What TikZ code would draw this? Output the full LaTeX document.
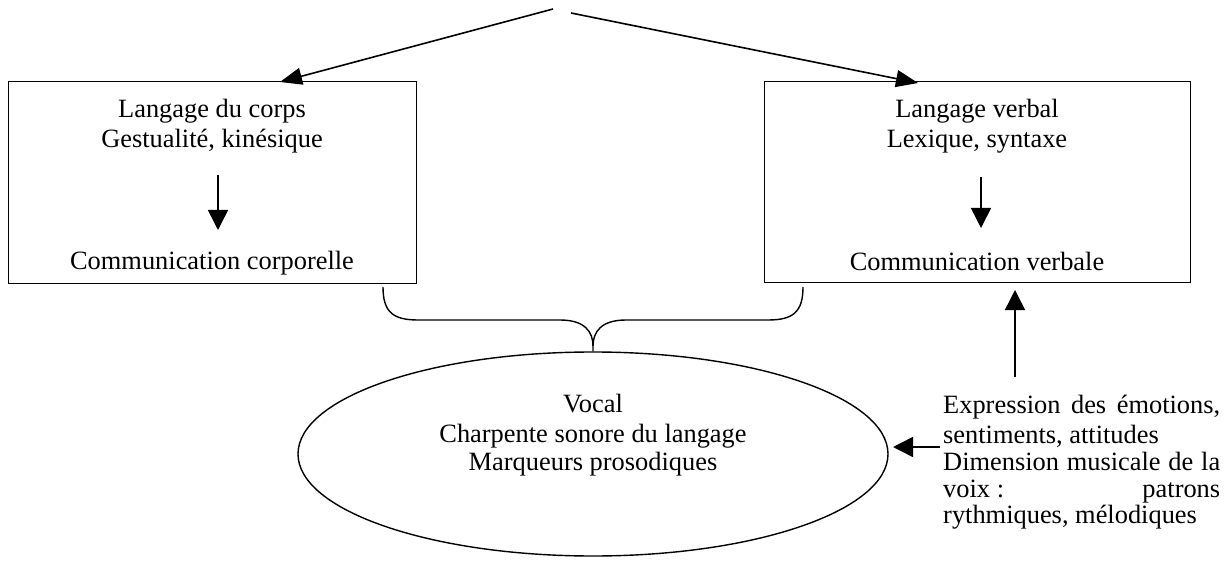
\documentclass[tikz,border=0pt]{standalone}
\usepackage{fontspec}
\setmainfont{Liberation Serif}
\usetikzlibrary{arrows.meta,shapes.geometric}
\begin{document}
\begin{tikzpicture}[x=1pt,y=-1pt,
  txt/.style={font=\fontsize{26.4}{29}\selectfont, inner sep=0pt, anchor=base},
  rtxt/.style={font=\fontsize{26.4}{29}\selectfont, inner sep=0pt, anchor=base west},
  box/.style={draw, line width=1pt, inner sep=0pt},
  arr/.style={line width=1.5pt, -{Triangle[length=20pt,width=20pt]}},
  tarr/.style={line width=1.6pt, -{Triangle[length=22pt,width=17pt]}},
  brace/.style={line width=1.4pt}]
\useasboundingbox (0,0) rectangle (1231,561);

% boxes
\node[box, minimum width=408pt, minimum height=202pt] (lbox) at (212,183) {};
\node[box, minimum width=426pt, minimum height=201pt] (rbox) at (977,182.5) {};

% left box texts
\node[txt] (l1) at (212,118) {Langage du corps};
\node[txt] (l2) at (212,148) {Gestualité, kinésique};
\node[txt] (l3) at (212,270) {Communication corporelle};
% right box texts
\node[txt] (r1) at (977,118) {Langage verbal};
\node[txt] (r2) at (977,148) {Lexique, syntaxe};
\node[txt] (r3) at (977,271) {Communication verbale};

% inner arrows
\coordinate (la1) at (218,175);
\coordinate (la2) at (218,230);
\coordinate (ra1) at (981,177);
\coordinate (ra2) at (981,228);
\draw[arr] (la1) -- (la2);
\draw[arr] (ra1) -- (ra2);

% top arrows
\coordinate (top1) at (553,9);
\coordinate (top2) at (571,13);
\coordinate (lt) at (280,82);
\coordinate (rt) at (918,83);
\draw[tarr] (top1) -- (lt);
\draw[tarr] (top2) -- (rt);

% ellipse
\node[draw, ellipse, line width=1.4pt, minimum width=590pt, minimum height=204pt, inner sep=0pt] (vocal) at (593,454) {};
\node[txt] (v1) at (593,412) {Vocal};
\node[txt] (v2) at (593,442) {Charpente sonore du langage};
\node[txt] (v3) at (593,470) {Marqueurs prosodiques};

% brace
\coordinate (bl) at (383,287);
\coordinate (br) at (803,287);
\draw[brace] (bl) .. controls (383,312) and (393,320) .. (418,320) -- (560,320)
  .. controls (585,320) and (593,332) .. (593,346) -- (vocal.north);
\draw[brace] (br) .. controls (803,312) and (793,320) .. (768,320) -- (626,320)
  .. controls (601,320) and (593,332) .. (593,346);

% right text block
\node[rtxt] (e1) at (943,413) {\makebox[277pt][s]{Expression des émotions,}};
\node[rtxt] (e2) at (943,443) {sentiments, attitudes};
\node[rtxt] (e3) at (943,470) {\makebox[277pt][s]{Dimension musicale de la}};
\node[rtxt] (e4) at (943,497) {\makebox[277pt][l]{voix :\hfill patrons}};
\node[rtxt] (e5) at (943,523) {rythmiques, mélodiques};

% arrows from text block
\coordinate (eu) at (1015,377);
\coordinate (eut) at (1015,290);
\draw[arr] (eu) -- (eut);
\coordinate (el) at (940,447);
\coordinate (elt) at (893,447);
\draw[arr] (el) -- (elt);
\end{tikzpicture}
\end{document}
